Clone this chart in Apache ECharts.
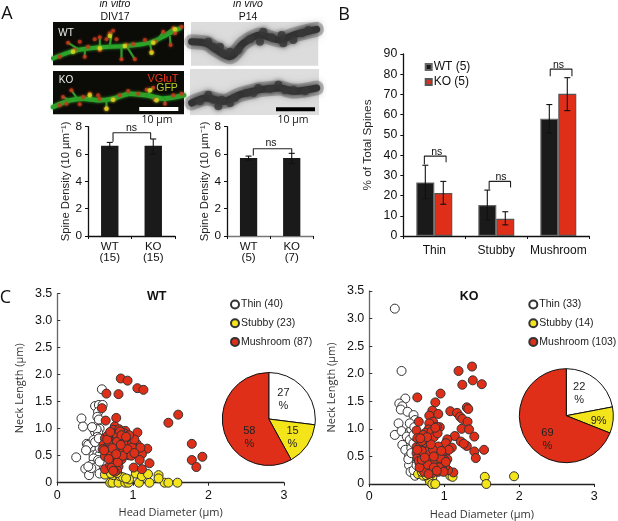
<!DOCTYPE html>
<html><head><meta charset="utf-8">
<style>html,body{margin:0;padding:0;background:#fff}#c{width:618px;height:521px}</style>
<script src="https://cdn.jsdelivr.net/npm/echarts@6/dist/echarts.min.js"></script>
</head><body><div id="c"></div>
<script>
// ---- Panel A densities
const densityCatsVitro = ['WT\n(15)', 'KO\n(15)'];
const densityVitro = [6.6, 6.6];
const densityVitroLow = [6.4, 6.0];
const densityVitroHigh = [6.85, 7.1];
const densityCatsVivo = ['WT\n(5)', 'KO\n(7)'];
const densityVivo = [5.7, 5.7];
const densityVivoLow = [5.55, 5.3];
const densityVivoHigh = [5.85, 6.05];
// ---- Panel B
const spineCats = ['Thin', 'Stubby', 'Mushroom'];
const spineWT = [26.5, 15.3, 58];
const spineWTLow = [18.5, 8, 51];
const spineWTHigh = [35, 22.7, 65];
const spineKO = [21.3, 8.5, 70.3];
const spineKOLow = [15.7, 5.5, 62];
const spineKOHigh = [27, 12, 78.3];
// ---- Panel C scatter
const wtThin = [[.59,1.73],[.50,1.42],[.55,1.44],[.60,1.44],[.54,1.31],[.53,1.22],[.32,1.19],[.34,1.04],[.25,.47],[.37,.26],[.42,.14],[.39,.72],[.41,.70],[.38,.60],[.48,1.0],[.52,1.05],[.56,1.0],[.50,.94],[.54,.93],[.52,.99],[.53,.85],[.48,.79],[.53,.70],[.50,.60],[.48,.51],[.53,.54],[.56,.51],[.48,.45],[.54,.42],[.45,.33],[.50,.28],[.56,.39],[.56,.64],[.45,.27],[.41,.30],[.56,.17],[.55,1.17],[.50,.75],[.46,1.03],[.55,.82]];
const wtStubby = [[.70,0],[.73,0],[.81,0],[.90,0],[.94,0],[1.08,0],[1.22,0],[1.42,0],[1.47,0],[1.59,0],[.63,.15],[.74,.14],[.83,.12],[.87,.10],[.95,.06],[1.04,.17],[1.12,.12],[1.20,.16],[1.34,.14],[1.34,.08],[.71,.17],[.91,.08],[.79,.18]];
const wtMushroom = [[.84,1.93],[.93,1.89],[1.06,1.75],[1.14,1.72],[.65,1.65],[.81,1.64],[.59,1.38],[1.60,1.26],[1.47,1.11],[.64,1.15],[.78,1.20],[1.78,.72],[1.78,.42],[1.84,.29],[1.92,.48],[1.06,.93],[.76,1.04],[.74,.98],[.82,.99],[.90,.96],[.96,.82],[.63,.82],[.72,.82],[.79,.85],[.85,.79],[1.05,.72],[1.19,.63],[1.07,.60],[.61,.70],[.67,.67],[.74,.70],[.83,.67],[.92,.70],[.96,.60],[.65,.57],[.72,.57],[.81,.54],[.90,.54],[.63,.49],[.76,.47],[.85,.43],[.94,.51],[1.12,.53],[1.09,.42],[1.22,.36],[1.01,.28],[1.12,.25],[.63,.25],[.70,.33],[.76,.36],[.81,.30],[.73,.42],[.79,.23],[.76,.20],[.88,.92],[.78,.90],[.68,.76],[.88,.72],[.99,.72],[.87,.62],[.76,.62],[.70,.50],[.80,.45],[.99,.65],[1.02,.80],[.67,.88],[.95,.88],[.72,.28],[.80,.38],[.74,.22],[.83,.95],[.87,.50],[.93,.62],[1.10,.65],[.60,.62],[.66,.80],[.70,.94],[.79,.76],[.98,.50],[1.02,.55],[.85,.88],[.73,.64],[.68,.44],[.78,.53],[.91,.85],[.84,.70],[.62,.60]];
const koThin = [[.34,3.18],[.43,2.05],[.48,1.55],[.40,1.46],[.44,1.41],[.42,1.35],[.51,1.31],[.59,1.25],[.61,1.16],[.39,1.10],[.34,.89],[.43,.96],[.54,.95],[.56,.99],[.50,.86],[.54,.80],[.44,.71],[.48,.62],[.56,.65],[.53,.50],[.61,.47],[.53,.34],[.55,.22],[.61,.15],[.59,.25],[.52,.45],[.59,.74],[.61,.86],[.56,.56],[.63,.34],[.59,.89],[.54,1.10],[.60,1.03]];
const koStubby = [[1.54,.13],[1.56,0],[1.93,.14],[1.08,.15],[1.11,.13],[.65,.18],[.72,.15],[.79,.10],[.84,.12],[.81,.04],[.84,0],[.88,0],[.70,.22],[.76,.16]];
const koMushroom = [[1.19,2.05],[1.37,2.13],[1.38,1.88],[1.50,1.81],[1.24,1.80],[.64,1.57],[.95,1.64],[.88,1.48],[.84,1.33],[1.30,1.39],[1.32,1.36],[1.08,1.32],[1.17,1.29],[.80,1.24],[.92,1.27],[1.21,1.22],[1.24,1.18],[1.31,1.13],[.66,1.13],[.85,1.13],[.80,1.10],[1.23,1.0],[1.33,.99],[.63,.97],[.94,1.03],[.90,1.04],[.79,.99],[.75,.93],[.83,.95],[1.40,.86],[1.14,.87],[1.04,.81],[1.22,.77],[1.02,.74],[.64,.83],[.72,.89],[.63,.67],[.68,.69],[.79,.66],[.92,.68],[1.10,.66],[1.30,.69],[1.26,.73],[1.40,.59],[1.53,.62],[1.42,.47],[1.01,.56],[.91,.54],[1.04,.45],[1.12,.21],[1.05,.25],[.63,.56],[.68,.53],[.74,.56],[.81,.53],[.64,.47],[.72,.44],[.81,.42],[.90,.44],[.67,.37],[.74,.34],[.81,.31],[.90,.34],[.70,.28],[.76,.25],[.84,.27],[.92,.22],[1.0,.44],[1.01,.31],[.66,.42],[.77,.45],[.86,.38],[.78,.60],[.85,.62],[.70,.60],[.75,.75],[.86,.85],[.91,.92],[.88,1.02],[.70,.78],[.96,.38],[.97,.28],[.84,.20],[.73,.22],[.78,.35],[.88,.26],[.67,.30],[.95,.47],[1.02,.40],[1.06,.62],[.86,.50],[.96,.60],[.70,.44],[.82,.72],[.77,.85],[.68,.83],[.93,.30],[.99,.22],[.64,.62],[.86,.30],[.79,.18],[.74,.48],[.90,.24]];
// ---- Panel C pies
const pieNames = ['Thin', 'Stubby', 'Mushroom'];
const pieWT = [27, 15, 58];
const pieKO = [22, 9, 69];
const pieWTLabels = ['27\n%', '15\n%', '58\n%'];
const pieKOLabels = ['22\n%', '9%', '69\n%'];
// ---- Panel A micrograph traces, read in picture units
const vitroWTBranch = [[160,175],[215,155],[270,145],[330,140],[380,138],[450,128],[500,105],[540,85]];
const vitroWTTwigs = [[[240,150],[205,128]],[[300,143],[300,112]],[[330,140],[335,100]],[[380,138],[405,178]],[[455,130],[520,85]],[[510,110],[512,135]],[[255,147],[255,170]],[[365,140],[365,178]],[[450,130],[455,155]],[[470,125],[490,95]]];
const vitroWTRed = [[205,128],[240,125],[300,112],[330,100],[350,118],[300,150],[380,135],[405,178],[365,178],[455,155],[465,125],[490,95],[520,85],[512,135],[255,170],[340,92],[525,100],[225,150],[265,140],[400,132],[435,120],[545,80],[180,170],[285,118],[320,118]];
const vitroWTYellow = [[220,155],[375,138],[460,128],[525,88],[300,145],[330,108],[455,158]];
const vitroKOBranch = [[160,320],[210,300],[250,295],[300,300],[340,295],[390,280],[440,285],[490,295],[552,285]];
const vitroKOTwigs = [[[210,300],[190,290]],[[235,298],[215,270]],[[320,298],[320,325]],[[385,282],[385,272]],[[470,290],[465,298]],[[495,295],[495,310]],[[440,285],[460,262]],[[270,295],[270,280]]];
const vitroKORed = [[190,290],[215,270],[270,280],[300,295],[340,298],[385,272],[440,268],[465,298],[320,325],[495,310],[240,312],[460,262],[180,315],[250,290],[295,285],[360,285],[415,280],[520,285],[545,280],[200,310]];
const vitroKOYellow = [[340,298],[320,325],[470,300],[270,285],[450,270]];
const vivoWTBranch = [[575,125],[620,130],[650,150],[690,170],[730,130],[780,105],[840,120],[880,105],[950,88]];
const vivoWTBlobs = [[625,125],[660,140],[690,155],[715,150],[790,95],[780,125],[850,130],[880,120],[925,90],[845,105],[640,140],[670,160],[750,118],[815,112],[905,100]];
const vivoKOBranch = [[575,310],[620,295],[670,305],[720,285],[780,270],[840,265],[880,275],[950,265]];
const vivoKOBlobs = [[625,285],[655,320],[690,310],[740,280],[775,265],[835,255],[880,270],[915,275],[600,305],[640,300],[665,300],[705,295],[760,280],[810,268],[855,272]];
const barVitroTrace = [[418,326],[535,326]];
const barVivoTrace = [[828,329],[945,329]];

const SANS = '"Liberation Sans", Arial, sans-serif';
const HUM = '"Open Sans", "Noto Sans", sans-serif';
const RED = '#df2f18', YEL = '#f4e41a', BLK = '#1a1a1a';
const grids = [], xAxes = [], yAxes = [], series = [], legends = [];

function addGrid(rect, x, y, extra) {
  const g = grids.length;
  grids.push(Object.assign({left: rect[0], top: rect[1], width: rect[2], height: rect[3], containLabel: false}, extra || {}));
  const xi = xAxes.length, yi = yAxes.length;
  xAxes.push(Object.assign({gridIndex: g}, x));
  yAxes.push(Object.assign({gridIndex: g}, y));
  return {g, xi, yi};
}
function hiddenX(g, n) {
  xAxes.push({gridIndex: g, type: 'value', min: 0, max: n, show: false});
  return xAxes.length - 1;
}
function catAxis(cats, fs, color, margin) {
  return {type: 'category', data: cats,
    axisLine: {lineStyle: {color: color || '#111', width: 1.3}},
    axisTick: {show: true, alignWithLabel: false, length: 3, lineStyle: {color: '#111', width: 1}},
    axisLabel: {color: '#111', fontFamily: SANS, fontSize: fs, lineHeight: 11.5, margin: margin, interval: 0}};
}
function valAxis(max, step, name, fs, gap) {
  return {type: 'value', min: 0, max, interval: step, name, nameLocation: 'middle', nameGap: gap,
    nameTextStyle: {color: '#222', fontFamily: SANS, fontSize: fs},
    axisLine: {show: true, lineStyle: {color: '#111', width: 1.3}},
    axisTick: {show: true, inside: false, length: 3, lineStyle: {color: '#111'}},
    splitLine: {show: false},
    axisLabel: {color: '#111', fontFamily: SANS, fontSize: fs + .5, margin: 6}};
}
function errBars(xi, yi, xs, low, high, cap) {
  series.push({type: 'custom', xAxisIndex: xi, yAxisIndex: yi, z: 5, silent: true, clip: false,
    data: xs.map((x, i) => [x, low[i], high[i]]),
    renderItem(p, api) {
      const a = api.coord([api.value(0), api.value(1)]), b = api.coord([api.value(0), api.value(2)]);
      const st = {stroke: '#111', lineWidth: 1.1, fill: null};
      const seg = (x1, y1, x2, y2) => ({type: 'line', shape: {x1, y1, x2, y2}, style: st});
      return {type: 'group', children: [seg(a[0], a[1], b[0], b[1]), seg(a[0] - cap, a[1], a[0] + cap, a[1]), seg(b[0] - cap, b[1], b[0] + cap, b[1])]};
    }});
}
function bracket(xi, yi, pts) {
  series.push({type: 'line', xAxisIndex: xi, yAxisIndex: yi, data: pts, symbol: 'none', z: 6, silent: true, clip: false,
    lineStyle: {color: '#222', width: 1.1}});
}
function densityPanel(rect, cats, vals, low, high, br, axisColor) {
  const a = addGrid(rect, catAxis(cats, 11.5, axisColor, 5), valAxis(8, 2, 'Spine Density (10 µm⁻¹)', 11.3, 15));
  series.push({type: 'bar', xAxisIndex: a.xi, yAxisIndex: a.yi, data: vals, barWidth: '40%', itemStyle: {color: BLK}, z: 3});
  const hx = hiddenX(a.g, 2);
  errBars(hx, a.yi, [.5, 1.5], low, high, 3);
  bracket(hx, a.yi, br);
}
// Panel A bar charts
densityPanel([88, 126.7, 87, 109.3], densityCatsVitro, densityVitro, densityVitroLow, densityVitroHigh,
  [[.575, 6.9], [.575, 7.56], [1.44, 7.56], [1.44, 7.1]]);
densityPanel([227, 126.7, 86.3, 109.3], densityCatsVivo, densityVivo, densityVivoLow, densityVivoHigh,
  [[.61, 5.9], [.61, 6.39], [1.5, 6.39], [1.5, 6.05]], '#777');

// Panel B
(function () {
  const a = addGrid([403.3, 54, 186, 182], catAxis(spineCats, 12, '#111', 9), valAxis(90, 10, '% of Total Spines', 11.8, 30));
  const bs = {type: 'bar', xAxisIndex: a.xi, yAxisIndex: a.yi, barWidth: '29%', barGap: 0, z: 3};
  series.push(Object.assign({}, bs, {name: 'WT (5)', data: spineWT, itemStyle: {color: BLK, borderColor: '#666', borderWidth: 1.2}}));
  series.push(Object.assign({}, bs, {name: 'KO (5)', data: spineKO, itemStyle: {color: RED, borderColor: '#555', borderWidth: 1.2}}));
  const hx = hiddenX(a.g, 3);
  errBars(hx, a.yi, [.355, 1.355, 2.355], spineWTLow, spineWTHigh, 3);
  errBars(hx, a.yi, [.645, 1.645, 2.645], spineKOLow, spineKOHigh, 3);
  bracket(hx, a.yi, [[.34, 35.5], [.34, 39.5], [.69, 39.5], [.69, 36.5]]);
  bracket(hx, a.yi, [[1.385, 23], [1.385, 27], [1.73, 27], [1.73, 24]]);
  bracket(hx, a.yi, [[2.37, 79], [2.37, 82.5], [2.72, 82.5], [2.72, 79]]);
  legends.push({data: ['WT (5)', 'KO (5)'], orient: 'vertical', left: 424.7, top: 61, padding: 0, icon: 'rect', itemWidth: 6, itemHeight: 6, itemGap: 3,
    selectedMode: false, textStyle: {color: '#111', fontFamily: SANS, fontSize: 12, padding: [0, 0, 0, -3]}});
})();

// Panel C
function scatterPanel(rect, thin, stubby, mush, names, legLeft, pieC, pieR, pieVals, pieLabels, offs) {
  const sc = {
    x: {type: 'value', min: 0, max: 3, interval: 1, name: 'Head Diameter (µm)', nameLocation: 'middle', nameGap: 25,
      nameTextStyle: {color: '#333', fontFamily: HUM, fontSize: 11},
      axisLine: {lineStyle: {color: '#222', width: 1.3}}, axisTick: {length: 3, lineStyle: {color: '#222'}}, splitLine: {show: false},
      axisLabel: {color: '#111', fontFamily: SANS, fontSize: 12.5, margin: 6}},
    y: {type: 'value', min: 0, max: 3.5, interval: .5, name: 'Neck Length (µm)', nameLocation: 'middle', nameGap: 32,
      nameTextStyle: {color: '#333', fontFamily: HUM, fontSize: 11},
      axisLine: {show: true, lineStyle: {color: '#666', width: 1.3}}, axisTick: {show: true, inside: true, length: 3, lineStyle: {color: '#333'}}, splitLine: {show: false},
      axisLabel: {color: '#111', fontFamily: SANS, fontSize: 12.5, margin: 5, formatter: v => v === 0 ? '0' : v.toFixed(1)}}
  };
  const a = addGrid(rect, sc.x, sc.y);
  const mk = (name, data, color, z) => series.push({type: 'scatter', name, data, xAxisIndex: a.xi, yAxisIndex: a.yi, symbolSize: 9, clip: false, z,
    itemStyle: {color, borderColor: '#333', borderWidth: 1, opacity: 1}});
  mk(names[0], thin, '#fff', 3);
  mk(names[1], stubby, YEL, 4);
  mk(names[2], mush, RED, 5);
  legends.push({data: names, orient: 'vertical', left: legLeft, top: 299, padding: 0, itemWidth: 8, itemHeight: 8, itemGap: 7.7, selectedMode: false,
    textStyle: {color: '#222', fontFamily: SANS, fontSize: 10.5, padding: [0, 0, 0, -3]}});
  series.push({type: 'pie', center: pieC, radius: pieR, startAngle: 90, clockwise: true, silent: true, z: 6,
    itemStyle: {borderColor: '#111', borderWidth: 1},
    labelLine: {show: false},
    label: {show: true, position: 'inside', color: '#222', fontFamily: SANS, fontSize: 11, lineHeight: 13},
    data: pieNames.map((n, i) => ({name: n, value: pieVals[i],
      itemStyle: {color: ['#fff', YEL, RED][i]},
      label: {formatter: pieLabels[i], offset: offs[i]}}))});
}
scatterPanel([57.3, 293.7, 226.7, 189], wtThin, wtStubby, wtMushroom, ['Thin (40)', 'Stubby (23)', 'Mushroom (87)'], 230,
  [268.8, 419], 46.5, pieWT, pieWTLabels, [[-5, -2], [2, 4], [6, 12]]);
scatterPanel([369.3, 291, 225, 193], koThin, koStubby, koMushroom, ['Thin (33)', 'Stubby (14)', 'Mushroom (103)'], 528.3,
  [566.3, 415.7], 47, pieKO, pieKOLabels, [[-4, -2], [6, 3], [3, 9]]);

// Micrographs: hidden axes in picture units on dark or pale grid backgrounds
function micro(rect, xr, yr, bg, build) {
  const a = addGrid(rect, {type: 'value', min: xr[0], max: xr[1], show: false}, {type: 'value', min: yr[0], max: yr[1], inverse: true, show: false},
    {show: true, backgroundColor: bg, borderWidth: 0});
  build(a);
}
function trace(a, data, color, width, blur, z) {
  series.push({type: 'line', xAxisIndex: a.xi, yAxisIndex: a.yi, data, symbol: 'none', smooth: .3, silent: true, z: z || 2,
    lineStyle: {color, width, shadowBlur: blur, shadowColor: color, cap: 'round'}});
}
function spots(a, data, color, size, z, blur) {
  series.push({type: 'scatter', xAxisIndex: a.xi, yAxisIndex: a.yi, data, symbolSize: size, silent: true, z: z || 3,
    itemStyle: {color, shadowBlur: blur || 2, shadowColor: color}});
}
function scaleBar(a, data, color) {
  series.push({type: 'line', xAxisIndex: a.xi, yAxisIndex: a.yi, data, symbol: 'none', silent: true, z: 8, lineStyle: {color, width: 4, cap: 'butt'}});
}
micro([53, 22, 131, 43.3], [160, 552], [66, 196], '#0b0b08', a => {
  trace(a, vitroWTBranch, '#2aa52a', 4, 3);
  vitroWTTwigs.forEach(t => trace(a, t, '#2f9a2a', 1.8, 1));
  spots(a, vitroWTRed, '#c43a1c', 4, 3, 3);
  spots(a, vitroWTYellow, '#d8d820', 4.5, 4, 3);
});
micro([53, 71, 131, 43.3], [160, 552], [212, 342], '#0b0b08', a => {
  trace(a, vitroKOBranch, '#2aa52a', 4.5, 3);
  vitroKOTwigs.forEach(t => trace(a, t, '#2f9a2a', 1.8, 1));
  spots(a, vitroKORed, '#c43a1c', 4, 3, 3);
  spots(a, vitroKOYellow, '#d8d820', 4.5, 4, 3);
  scaleBar(a, barVitroTrace, '#fff');
});
micro([191, 22, 127.3, 43.7], [573, 955], [66, 197], '#dcdcdc', a => {
  trace(a, vivoWTBranch, 'rgba(90,90,90,0.35)', 15, 10, 1);
  trace(a, vivoWTBranch, '#333333', 7, 6);
  spots(a, vivoWTBlobs, '#383838', 8, 3, 5);
});
micro([190, 69, 129, 46], [570, 957], [208, 346], '#dedede', a => {
  trace(a, vivoKOBranch, 'rgba(90,90,90,0.35)', 15, 10, 1);
  trace(a, vivoKOBranch, '#333333', 7, 6);
  spots(a, vivoKOBlobs, '#383838', 8, 3, 5);
  scaleBar(a, barVivoTrace, '#000');
});

const t = (x, y, text, o) => ({type: 'text', x, y, z: 20, silent: true,
  style: Object.assign({text, fill: '#111', font: '10.5px ' + SANS, textAlign: 'center', textVerticalAlign: 'middle'}, o || {})});
const letter = '18px ' + HUM;
const graphicEls = [
  t(7, 14, 'A', {font: letter}), t(344, 15, 'B', {font: letter}), t(5.5, 298, 'C', {font: letter}),
  t(115, 4.5, 'in vitro', {font: 'italic 10.5px ' + SANS}), t(115, 17, 'DIV17'),
  t(248, 4.5, 'in vivo', {font: 'italic 10.5px ' + SANS}), t(248, 17, 'P14'),
  t(66, 33, 'WT', {fill: '#eee', font: '10px ' + SANS}), t(66, 80, 'KO', {fill: '#eee', font: '10px ' + SANS}),
  t(163, 79, 'VGluT', {fill: '#e8381a', font: '11px ' + SANS}), t(167, 88, 'GFP', {fill: '#b8c828', font: '10.5px ' + SANS}),
  t(157, 120.5, '10 µm', {font: '10.5px ' + HUM}), t(293, 120.5, '10 µm', {font: '10.5px ' + HUM}),
  t(131.5, 128, 'ns'), t(271, 143, 'ns'),
  t(436.7, 152, 'ns'), t(501, 177, 'ns'), t(558.5, 65, 'ns'),
  t(156.7, 296.5, 'WT', {font: 'bold 12.5px ' + SANS}), t(469, 296.5, 'KO', {font: 'bold 12.5px ' + SANS})
];

const chart = echarts.init(document.getElementById('c'), null, {renderer: 'canvas'});
chart.setOption({animation: false, backgroundColor: '#fff', tooltip: {show: false},
  grid: grids, xAxis: xAxes, yAxis: yAxes, legend: legends, series, graphic: {elements: graphicEls}});
</script></body></html>
